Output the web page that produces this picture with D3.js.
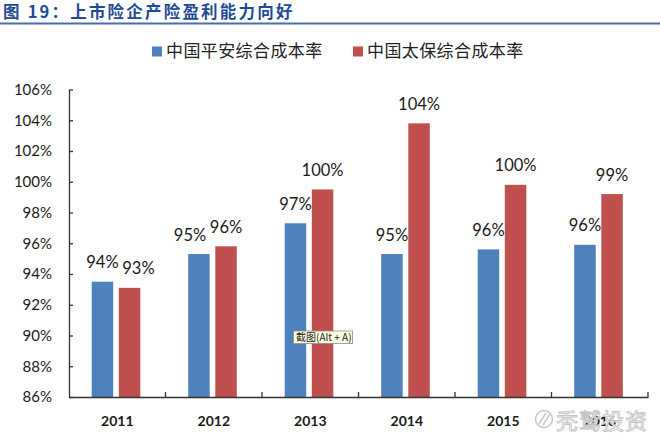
<!DOCTYPE html>
<html>
<head>
<meta charset="utf-8">
<script src="https://cdn.jsdelivr.net/npm/d3@7/dist/d3.min.js"></script>
<style>
  html, body { margin: 0; padding: 0; background: #fff; }
  svg { display: block; }
</style>
</head>
<body>
<svg id="chart" width="660" height="437"></svg>
<script>
// ---- data ----
const titleText = "图 19：上市险企产险盈利能力向好";
const years = ["2011", "2012", "2013", "2014", "2015", "2016"];
const seriesNames = ["中国平安综合成本率", "中国太保综合成本率"];
const pinganValues = [0.935, 0.953, 0.973, 0.953, 0.956, 0.959];
const cpicValues = [0.931, 0.958, 0.995, 1.038, 0.998, 0.992];
const pinganLabels = ["94%", "95%", "97%", "95%", "96%", "96%"];
const cpicLabels = ["93%", "96%", "100%", "104%", "100%", "99%"];
const yTicks = [0.86, 0.88, 0.90, 0.92, 0.94, 0.96, 0.98, 1.00, 1.02, 1.04, 1.06];
const yTickLabels = ["86%", "88%", "90%", "92%", "94%", "96%", "98%", "100%", "102%", "104%", "106%"];
const colors = ["#4f81bd", "#c0504d"];
const watermarkText = "秃鹫投资";
const tooltipText = "截图(Alt + A)";

const svg = d3.select("#chart");
const latin = "Lato, 'Open Sans', 'DejaVu Sans', sans-serif";
const cjk = "'Noto Sans CJK SC', 'Noto Sans', sans-serif";

// ---- title ----
svg.append("text")
  .attr("x", 3).attr("y", 18)
  .attr("font-family", cjk)
  .attr("font-weight", "bold")
  .attr("font-size", 16.5)
  .attr("letter-spacing", "2.2px")
  .attr("fill", "#1f4a94")
  .text(titleText);
svg.append("rect")
  .attr("x", 0).attr("y", 22.5).attr("width", 660).attr("height", 2)
  .attr("fill", "#4a6db0");

// ---- scales ----
const x = d3.scaleBand().domain(years).range([69, 648]).paddingInner(0).paddingOuter(0);
const x1 = d3.scaleBand().domain([0, 1]).range([22.7, 71.3]).paddingInner(0.207);
const y = d3.scaleLinear().domain([0.86, 1.06]).range([397, 89.5]);

// ---- legend ----
const legendX = [152, 353];
seriesNames.forEach((name, i) => {
  const g = svg.append("g").attr("transform", `translate(${legendX[i]},0)`);
  g.append("rect").attr("x", 0).attr("y", 46.5).attr("width", 10).attr("height", 10).attr("fill", colors[i]);
  g.append("text").attr("x", 14).attr("y", 57)
    .attr("font-family", cjk).attr("font-size", 17).attr("letter-spacing", "0.4px")
    .attr("fill", "#222").text(name);
});

// ---- bars ----
const rows = years.map((yr, i) => ({ yr, vals: [pinganValues[i], cpicValues[i]], labels: [pinganLabels[i], cpicLabels[i]] }));
const groups = svg.append("g").selectAll("g").data(rows).join("g")
  .attr("transform", d => `translate(${x(d.yr)},0)`);

groups.selectAll("rect").data(d => d.vals.map((v, k) => ({ v, k }))).join("rect")
  .attr("x", d => x1(d.k))
  .attr("width", x1.bandwidth())
  .attr("y", d => y(d.v))
  .attr("height", d => y(0.86) - y(d.v))
  .attr("fill", d => colors[d.k]);

// data labels with simple collision nudge
groups.each(function (d) {
  const g = d3.select(this);
  const cx = [0, 1].map(k => x1(k) + x1.bandwidth() / 2);
  const ty = [0, 1].map(k => y(d.vals[k]) - 13.5);
  const minSep = 36;
  if (Math.abs(ty[0] - ty[1]) < 15 && cx[1] - cx[0] < minSep) {
    const extra = minSep - (cx[1] - cx[0]);
    if (d.vals[0] < d.vals[1]) cx[0] -= extra; else cx[1] += extra;
  }
  [0, 1].forEach(k => {
    g.append("text")
      .attr("x", cx[k]).attr("y", ty[k])
      .attr("text-anchor", "middle")
      .attr("font-family", latin).attr("font-size", 16.5)
      .attr("fill", "#1a1a1a")
      .text(d.labels[k]);
  });
});

// ---- y axis ----
const yAxis = d3.axisLeft(y).tickValues(yTicks)
  .tickFormat((d, i) => yTickLabels[i])
  .tickSizeInner(-4).tickSizeOuter(0).tickPadding(17);
const yg = svg.append("g").attr("transform", "translate(69,0)").call(yAxis);
yg.selectAll("path, line").attr("stroke", "#333").attr("stroke-width", 1.3);
yg.selectAll("text").attr("font-family", latin).attr("font-size", 15).attr("fill", "#1a1a1a");

// ---- x axis ----
const xAxis = d3.axisBottom(x).tickSize(0).tickPadding(19);
const xg = svg.append("g").attr("transform", "translate(0,397)").call(xAxis);
xg.select("path").attr("stroke", "#333").attr("stroke-width", 1.3);
xg.selectAll("text").attr("font-family", latin).attr("font-size", 14).attr("font-weight", "bold").attr("fill", "#1a1a1a");
const bounds = years.map(yr => x(yr)).concat([x.range()[1]]);
xg.selectAll("line.bound").data(bounds.slice(1)).join("line").attr("class", "bound")
  .attr("x1", d => d).attr("x2", d => d).attr("y1", 0).attr("y2", -5)
  .attr("stroke", "#333").attr("stroke-width", 1.3);

// ---- screenshot tooltip ----
const tip = svg.append("g").attr("transform", "translate(293.5,331)");
tip.append("rect").attr("width", 59).attr("height", 12.5)
  .attr("fill", "#ffffe1").attr("stroke", "#8a8a8a").attr("stroke-width", 0.8);
tip.append("text").attr("x", 2.5).attr("y", 10)
  .attr("font-family", cjk).attr("font-size", 10).attr("fill", "#222").text(tooltipText);

// ---- watermark ----
const wm = svg.append("g");
wm.append("circle").attr("cx", 544).attr("cy", 419).attr("r", 8.5)
  .attr("fill", "none").attr("stroke", "#c8c8c8").attr("stroke-width", 1.5);
wm.append("path").attr("d", "M539,424 L546,413 M543,425 L550,414")
  .attr("fill", "none").attr("stroke", "#c8c8c8").attr("stroke-width", 1.5);
wm.append("text").attr("x", 556).attr("y", 429)
  .attr("font-family", cjk).attr("font-size", 22).attr("letter-spacing", "1px")
  .attr("fill", "#ffffff").attr("fill-opacity", 0.85)
  .attr("stroke", "#c4c4c4").attr("stroke-width", 0.9)
  .text(watermarkText);
</script>
</body>
</html>
